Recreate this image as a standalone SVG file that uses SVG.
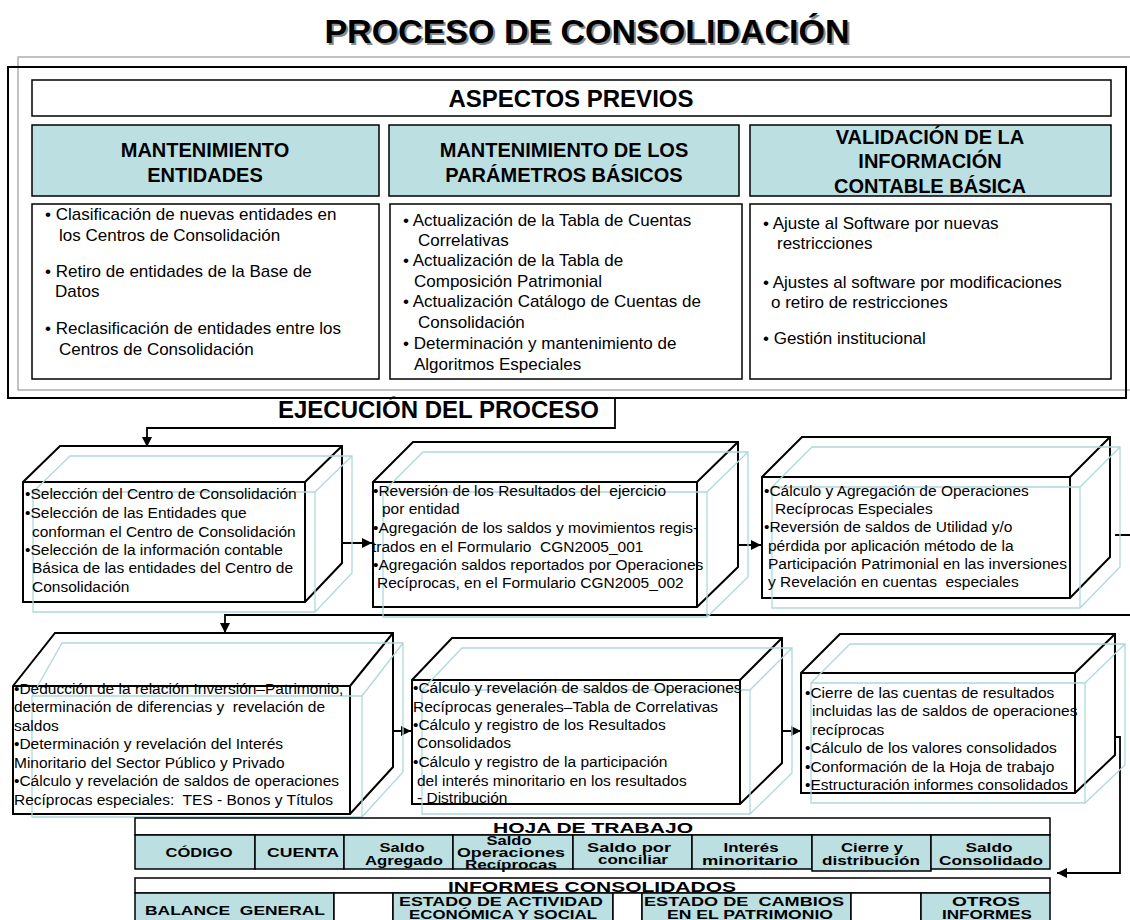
<svg xmlns="http://www.w3.org/2000/svg" width="1130" height="920" viewBox="0 0 1130 920">
<style>
text{font-family:"Liberation Sans",Arial,sans-serif;white-space:pre;fill:#000}
.b{font-weight:bold}
.bt{font-size:17px}
.ct{font-size:15.5px}
.hd{font-size:20px;font-weight:bold;text-anchor:middle}
.tb{font-size:12.5px;font-weight:bold;text-anchor:middle}
.tt{font-size:14px;font-weight:bold;text-anchor:middle}
.tr{font-size:13px;font-weight:bold;text-anchor:middle}
.cube{fill:#fff;stroke:#000;stroke-width:2;stroke-linejoin:miter}
.ghost{fill:none;stroke:#ADD9DD;stroke-width:1.3}
.hdr{fill:#BCDFE2;stroke:#000;stroke-width:1.5}
.box{fill:#fff;stroke:#000;stroke-width:1.5}
.cell{fill:#BCDFE2;stroke:#000;stroke-width:1.5}
.wcell{fill:#fff;stroke:#000;stroke-width:1.5}
.conn{fill:none;stroke:#000;stroke-width:1.8}
</style>
<defs>
<marker id="ah" viewBox="0 0 10 10" refX="10" refY="5" markerWidth="11" markerHeight="10" markerUnits="userSpaceOnUse" orient="auto">
<path d="M0,0 L10,5 L0,10 Z" fill="#000"/>
</marker>
</defs>

<rect width="1130" height="920" fill="#fff"/>

<g id="title">
<text x="589" y="45" class="b" font-size="34" text-anchor="middle" style="fill:#8a8a8a">PROCESO DE CONSOLIDACIÓN</text>
<text x="587" y="43" class="b" font-size="34" text-anchor="middle">PROCESO DE CONSOLIDACIÓN</text>
</g>

<g id="frame">
<rect x="18" y="57" width="1130" height="333" fill="none" stroke="#9a9a9a" stroke-width="1.2"/>
<rect x="8" y="67" width="1118" height="331" fill="none" stroke="#000" stroke-width="2"/>
</g>

<g id="aspectos-previos">
<rect x="32" y="80" width="1079" height="36" class="box"/>
<text x="571" y="107" class="b" font-size="24" text-anchor="middle">ASPECTOS PREVIOS</text>
</g>

<g id="hdr-entidades">
<rect x="32" y="125" width="347" height="71" class="hdr"/>
<text x="205" y="157" class="hd">MANTENIMIENTO</text>
<text x="205" y="182" class="hd">ENTIDADES</text>
</g>
<g id="hdr-parametros">
<rect x="389" y="125" width="350" height="71" class="hdr"/>
<text x="564" y="157" class="hd">MANTENIMIENTO DE LOS</text>
<text x="564" y="182" class="hd">PARÁMETROS BÁSICOS</text>
</g>
<g id="hdr-validacion">
<rect x="750" y="125" width="361" height="71" class="hdr"/>
<text x="930" y="144" class="hd">VALIDACIÓN DE LA</text>
<text x="930" y="168" class="hd">INFORMACIÓN</text>
<text x="930" y="193" class="hd">CONTABLE BÁSICA</text>
</g>

<g id="body-entidades">
<rect x="32" y="204" width="347" height="175" class="box"/>
<text x="45" y="220" class="bt">• Clasificación de nuevas entidades en</text>
<text x="59" y="241" class="bt">los Centros de Consolidación</text>
<text x="45" y="277" class="bt">• Retiro de entidades de la Base de</text>
<text x="55" y="297" class="bt">Datos</text>
<text x="45" y="334" class="bt">• Reclasificación de entidades entre los</text>
<text x="59" y="355" class="bt">Centros de Consolidación</text>
</g>
<g id="body-parametros">
<rect x="390" y="204" width="352" height="175" class="box"/>
<text x="403" y="226" class="bt">• Actualización de la Tabla de Cuentas</text>
<text x="418" y="246" class="bt">Correlativas</text>
<text x="403" y="266" class="bt">• Actualización de la Tabla de</text>
<text x="414" y="287" class="bt">Composición Patrimonial</text>
<text x="403" y="307" class="bt">• Actualización Catálogo de Cuentas de</text>
<text x="418" y="328" class="bt">Consolidación</text>
<text x="403" y="349" class="bt">• Determinación y mantenimiento de</text>
<text x="414" y="370" class="bt">Algoritmos Especiales</text>
</g>
<g id="body-validacion">
<rect x="750" y="204" width="361" height="175" class="box"/>
<text x="763" y="229" class="bt">• Ajuste al Software por nuevas</text>
<text x="777" y="249" class="bt">restricciones</text>
<text x="763" y="288" class="bt">• Ajustes al software por modificaciones</text>
<text x="771" y="308" class="bt">o retiro de restricciones</text>
<text x="763" y="344" class="bt">• Gestión institucional</text>
</g>

<g id="ejecucion-label">
<text x="278" y="418" class="b" font-size="24">EJECUCIÓN DEL PROCESO</text>
</g>

<g id="connectors">
<path class="conn" d="M615,398 V428 H147 V447" marker-end="url(#ah)"/>
<path class="conn" d="M318,543 H372" marker-end="url(#ah)"/>
<path class="conn" d="M715,545 H761" marker-end="url(#ah)"/>
<path class="conn" d="M1115,535 H1145 V615 H225 V633" marker-end="url(#ah)"/>
<path class="conn" d="M365,731 H411" marker-end="url(#ah)"/>
<path class="conn" d="M753,731 H801" marker-end="url(#ah)"/>
<path class="conn" d="M1088,737 H1120 V873 H1057" marker-end="url(#ah)"/>
</g>

<g id="cube1">
<path class="cube" d="M23,482 L60,446 H342 V563 L305,602 H23 Z M23,482 H305 V602 M305,482 L342,446"/>
<path class="ghost" d="M33,492 L70,456 H352 V573 L315,612 H33 Z M33,492 H315 V612 M315,492 L352,456"/>
<text x="25" y="499" class="ct">•Selección del Centro de Consolidación</text>
<text x="25" y="518" class="ct">•Selección de las Entidades que</text>
<text x="32" y="537" class="ct">conforman el Centro de Consolidación</text>
<text x="25" y="555" class="ct">•Selección de la información contable</text>
<text x="32" y="573" class="ct">Básica de las entidades del Centro de</text>
<text x="32" y="592" class="ct">Consolidación</text>
</g>

<g id="cube2">
<path class="cube" d="M373,482 L413,442 H738 V567 L697,607 H373 Z M373,482 H697 V607 M697,482 L738,442"/>
<path class="ghost" d="M383,492 L423,452 H748 V577 L707,617 H383 Z M383,492 H707 V617 M707,492 L748,452"/>
<text x="373" y="496" class="ct">•Reversión de los Resultados del  ejercicio</text>
<text x="382" y="514" class="ct">por entidad</text>
<text x="373" y="533" class="ct">•Agregación de los saldos y movimientos regis-</text>
<text x="372" y="552" class="ct">trados en el Formulario  CGN2005_001</text>
<text x="373" y="570" class="ct">•Agregación saldos reportados por Operaciones</text>
<text x="377" y="588" class="ct">Recíprocas, en el Formulario CGN2005_002</text>
</g>

<g id="cube3">
<path class="cube" d="M762,477 L802,437 H1110 V557 L1070,598 H762 Z M762,477 H1070 V598 M1070,477 L1110,437"/>
<path class="ghost" d="M772,487 L812,447 H1120 V567 L1080,608 H772 Z M772,487 H1080 V608 M1080,487 L1120,447"/>
<text x="764" y="496" class="ct">•Cálculo y Agregación de Operaciones</text>
<text x="775" y="514" class="ct">Recíprocas Especiales</text>
<text x="764" y="532" class="ct">•Reversión de saldos de Utilidad y/o</text>
<text x="768" y="551" class="ct">pérdida por aplicación método de la</text>
<text x="768" y="569" class="ct">Participación Patrimonial en las inversiones</text>
<text x="768" y="587" class="ct">y Revelación en cuentas  especiales</text>
</g>

<g id="cube4">
<path class="cube" d="M13,686 L55,633 H393 V767 L350,814 H13 Z M13,686 H350 V814 M350,686 L393,633"/>
<path class="ghost" d="M32,696 L62,643 H403 V772 L362,817 H32 Z M32,696 H362 V817 M362,696 L403,643"/>
<text x="14" y="694" class="ct">•Deducción de la relación Inversión–Patrimonio,</text>
<text x="14" y="712" class="ct">determinación de diferencias y  revelación de</text>
<text x="14" y="731" class="ct">saldos</text>
<text x="14" y="749" class="ct">•Determinación y revelación del Interés</text>
<text x="14" y="768" class="ct">Minoritario del Sector Público y Privado</text>
<text x="14" y="786" class="ct">•Cálculo y revelación de saldos de operaciones</text>
<text x="14" y="805" class="ct">Recíprocas especiales:  TES - Bonos y Títulos</text>
</g>

<g id="cube5">
<path class="cube" d="M412,680 L452,638 H782 V763 L740,804 H412 Z M412,680 H740 V804 M740,680 L782,638"/>
<path class="ghost" d="M422,690 L462,648 H792 V773 L750,814 H422 Z M422,690 H750 V814 M750,690 L792,648"/>
<text x="413" y="693" class="ct">•Cálculo y revelación de saldos de Operaciones</text>
<text x="413" y="712" class="ct">Recíprocas generales–Tabla de Correlativas</text>
<text x="413" y="730" class="ct">•Cálculo y registro de los Resultados</text>
<text x="417" y="748" class="ct">Consolidados</text>
<text x="413" y="767" class="ct">•Cálculo y registro de la participación</text>
<text x="417" y="786" class="ct">del interés minoritario en los resultados</text>
<text x="417" y="803" class="ct">- Distribución</text>
</g>

<g id="cube6">
<path class="cube" d="M801,673 L840,634 H1115 V755 L1075,793 H801 Z M801,673 H1075 V793 M1075,673 L1115,634"/>
<path class="ghost" d="M811,683 L850,644 H1125 V765 L1085,803 H811 Z M811,683 H1085 V803 M1085,683 L1125,644"/>
<text x="805" y="698" class="ct">•Cierre de las cuentas de resultados</text>
<text x="812" y="716" class="ct">incluidas las de saldos de operaciones</text>
<text x="812" y="735" class="ct">recíprocas</text>
<text x="805" y="753" class="ct">•Cálculo de los valores consolidados</text>
<text x="805" y="772" class="ct">•Conformación de la Hoja de trabajo</text>
<text x="805" y="790" class="ct">•Estructuración informes consolidados</text>
</g>

<g id="hoja-trabajo">
<rect x="135" y="818" width="915" height="17" class="box"/>
<text x="593" y="833" class="tt" textLength="200" lengthAdjust="spacingAndGlyphs">HOJA DE TRABAJO</text>
<rect x="135" y="835" width="120" height="34" class="cell"/>
<rect x="255" y="835" width="89" height="34" class="cell"/>
<rect x="344" y="835" width="109" height="34" class="cell"/>
<rect x="453" y="835" width="120" height="34" class="cell"/>
<rect x="573" y="835" width="119" height="34" class="cell"/>
<rect x="692" y="835" width="120" height="34" class="cell"/>
<rect x="812" y="835" width="119" height="36" class="cell"/>
<rect x="931" y="835" width="119" height="34" class="cell"/>
<text x="199" y="857" class="tb" textLength="67" lengthAdjust="spacingAndGlyphs">CÓDIGO</text>
<text x="303" y="857" class="tb" textLength="72" lengthAdjust="spacingAndGlyphs">CUENTA</text>
<text x="402" y="852" class="tb" textLength="45" lengthAdjust="spacingAndGlyphs">Saldo</text>
<text x="404" y="865" class="tb" textLength="78" lengthAdjust="spacingAndGlyphs">Agregado</text>
<text x="509" y="845" class="tb" textLength="45" lengthAdjust="spacingAndGlyphs">Saldo</text>
<text x="511" y="857" class="tb" textLength="108" lengthAdjust="spacingAndGlyphs">Operaciones</text>
<text x="511" y="869" class="tb" textLength="92" lengthAdjust="spacingAndGlyphs">Recíprocas</text>
<text x="629" y="852" class="tb" textLength="84" lengthAdjust="spacingAndGlyphs">Saldo por</text>
<text x="633" y="864" class="tb" textLength="70" lengthAdjust="spacingAndGlyphs">conciliar</text>
<text x="751" y="852" class="tb" textLength="55" lengthAdjust="spacingAndGlyphs">Interés</text>
<text x="750" y="865" class="tb" textLength="96" lengthAdjust="spacingAndGlyphs">minoritario</text>
<text x="872" y="852" class="tb" textLength="62" lengthAdjust="spacingAndGlyphs">Cierre y</text>
<text x="871" y="865" class="tb" textLength="98" lengthAdjust="spacingAndGlyphs">distribución</text>
<text x="989" y="852" class="tb" textLength="47" lengthAdjust="spacingAndGlyphs">Saldo</text>
<text x="991" y="865" class="tb" textLength="104" lengthAdjust="spacingAndGlyphs">Consolidado</text>
</g>

<g id="informes-consolidados">
<rect x="135" y="878" width="915" height="15" class="box"/>
<text x="592" y="892" class="tt" textLength="288" lengthAdjust="spacingAndGlyphs">INFORMES CONSOLIDADOS</text>
<rect x="135" y="893" width="199" height="40" class="cell"/>
<rect x="334" y="893" width="59" height="40" class="wcell"/>
<rect x="393" y="893" width="220" height="40" class="cell"/>
<rect x="613" y="893" width="29" height="40" class="wcell"/>
<rect x="642" y="893" width="209" height="40" class="cell"/>
<rect x="851" y="893" width="70" height="40" class="wcell"/>
<rect x="921" y="893" width="129" height="40" class="cell"/>
<text x="235" y="915" class="tr" textLength="180" lengthAdjust="spacingAndGlyphs">BALANCE  GENERAL</text>
<text x="501" y="906" class="tr" textLength="204" lengthAdjust="spacingAndGlyphs">ESTADO DE ACTIVIDAD</text>
<text x="503" y="919" class="tr" textLength="188" lengthAdjust="spacingAndGlyphs">ECONÓMICA Y SOCIAL</text>
<text x="744" y="906" class="tr" textLength="200" lengthAdjust="spacingAndGlyphs">ESTADO DE  CAMBIOS</text>
<text x="750" y="919" class="tr" textLength="166" lengthAdjust="spacingAndGlyphs">EN EL PATRIMONIO</text>
<text x="986" y="906" class="tr" textLength="68" lengthAdjust="spacingAndGlyphs">OTROS</text>
<text x="987" y="919" class="tr" textLength="90" lengthAdjust="spacingAndGlyphs">INFORMES</text>
</g>
</svg>
